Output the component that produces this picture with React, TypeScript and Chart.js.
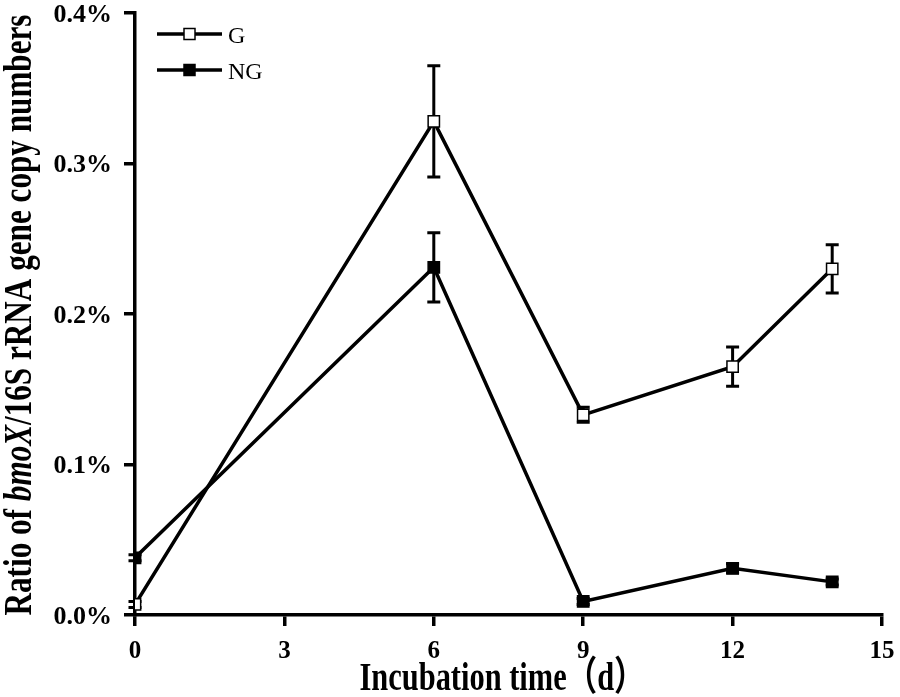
import React, { useEffect, useRef } from 'react';
import { Chart, registerables } from 'chart.js';

// Register Chart.js components
Chart.register(...registerables);

// Data (values in %)
const days = [0, 6, 9, 12, 14];
const gValues = [0.007, 0.328, 0.133, 0.165, 0.23];
const gErrors = [0.002, 0.037, 0.005, 0.013, 0.016];
const ngValues = [0.038, 0.231, 0.009, 0.031, 0.022];
const ngErrors = [0.002, 0.023, 0.002, 0.003, 0.002];
const seriesLabels = ['G', 'NG'];
const xTicks = [0, 3, 6, 9, 12, 15];
const yTicks = [0, 0.1, 0.2, 0.3, 0.4];

const SERIF = "'Times New Roman', 'Liberation Serif', 'Noto Sans CJK SC', serif";

const errorBars = [gErrors, ngErrors];

// error bars, drawn under the markers
const errorBarPlugin = {
  id: 'errorBars',
  beforeDatasetsDraw(chart: Chart) {
    const { ctx } = chart;
    const yScale = chart.scales.y;
    ctx.save();
    ctx.strokeStyle = '#000';
    ctx.lineWidth = 3;
    chart.data.datasets.forEach((ds, di) => {
      const meta = chart.getDatasetMeta(di);
      const errs = errorBars[di];
      meta.data.forEach((pt, i) => {
        const v = (ds.data[i] as { y: number }).y;
        const top = yScale.getPixelForValue(v + errs[i]);
        const bot = yScale.getPixelForValue(v - errs[i]);
        const x = pt.x;
        ctx.beginPath();
        ctx.moveTo(x, top);
        ctx.lineTo(x, bot);
        ctx.moveTo(x - 6.5, top);
        ctx.lineTo(x + 6.5, top);
        ctx.moveTo(x - 6.5, bot);
        ctx.lineTo(x + 6.5, bot);
        ctx.stroke();
      });
    });
    ctx.restore();
  },
};

// draws text squeezed to a given length
const fitText = (
  ctx: CanvasRenderingContext2D,
  parts: { text: string; font: string }[],
  length: number
) => {
  let total = 0;
  parts.forEach(p => {
    ctx.font = p.font;
    total += ctx.measureText(p.text).width;
  });
  ctx.scale(length / total, 1);
  let x = -total / 2;
  parts.forEach(p => {
    ctx.font = p.font;
    ctx.fillText(p.text, x, 0);
    x += ctx.measureText(p.text).width;
  });
};

// tick labels, axis titles + legend inside the plot
const decorPlugin = {
  id: 'decor',
  afterDraw(chart: Chart) {
    const { ctx, chartArea } = chart;
    const xScale = chart.scales.x;
    const yScale = chart.scales.y;
    ctx.save();
    ctx.fillStyle = '#000';

    // tick labels
    ctx.font = `bold 26px ${SERIF}`;
    ctx.textAlign = 'right';
    ctx.textBaseline = 'alphabetic';
    yTicks.forEach(v => {
      ctx.fillText(`${v.toFixed(1)}%`, chartArea.left - 23, yScale.getPixelForValue(v) + 8.5);
    });
    ctx.font = `bold 25px ${SERIF}`;
    ctx.textAlign = 'center';
    xTicks.forEach(v => {
      ctx.fillText(String(v), xScale.getPixelForValue(v), chartArea.bottom + 43);
    });

    ctx.textAlign = 'left';
    // y title
    ctx.save();
    ctx.translate(31, (chartArea.top + chartArea.bottom) / 2 + 1);
    ctx.rotate(-Math.PI / 2);
    fitText(
      ctx,
      [
        { text: 'Ratio of ', font: `bold 40px ${SERIF}` },
        { text: 'bmoX', font: `italic bold 40px ${SERIF}` },
        { text: '/16S rRNA gene copy numbers', font: `bold 40px ${SERIF}` },
      ],
      601
    );
    ctx.restore();

    // x title
    ctx.save();
    ctx.translate(502, 690);
    fitText(ctx, [{ text: 'Incubation time（d）', font: `bold 40px ${SERIF}` }], 285);
    ctx.restore();

    // legend
    chart.data.datasets.forEach((ds, di) => {
      const y = chartArea.top + 21 + di * 36;
      const x0 = chartArea.left + 22;
      ctx.strokeStyle = '#000';
      ctx.lineWidth = 3.5;
      ctx.beginPath();
      ctx.moveTo(x0, y);
      ctx.lineTo(x0 + 65, y);
      ctx.stroke();
      ctx.fillStyle = di === 0 ? '#fff' : '#000';
      ctx.lineWidth = 1.5;
      ctx.fillRect(x0 + 27, y - 5.5, 11, 11);
      ctx.strokeRect(x0 + 27, y - 5.5, 11, 11);
      ctx.fillStyle = '#000';
      ctx.font = `24px ${SERIF}`;
      ctx.textBaseline = 'alphabetic';
      ctx.fillText(ds.label || '', x0 + 71, y + 9);
    });
    ctx.restore();
  },
};

const App: React.FC = () => {
  const chartRef = useRef<HTMLCanvasElement>(null);
  const chartInstance = useRef<Chart | null>(null);

  useEffect(() => {
    document.body.style.margin = '0';
    if (!chartRef.current) return;
    const ctx = chartRef.current.getContext('2d');
    if (!ctx) return;

    const makeSet = (label: string, values: number[], fill: string) => ({
      label,
      data: days.map((d, i) => ({ x: d, y: values[i] })),
      borderColor: '#000',
      borderWidth: 3.5,
      pointStyle: 'rect' as const,
      pointRadius: 8,
      pointBorderWidth: 1.5,
      pointBorderColor: '#000',
      pointBackgroundColor: fill,
      tension: 0,
    });

    const axisGrid = {
      drawOnChartArea: false,
      drawTicks: true,
      tickLength: 11,
      color: '#000',
      lineWidth: 3.5,
    };

    chartInstance.current = new Chart(ctx, {
      type: 'line',
      data: {
        datasets: [
          makeSet(seriesLabels[0], gValues, '#fff'),
          makeSet(seriesLabels[1], ngValues, '#000'),
        ],
      },
      options: {
        responsive: false,
        animation: false,
        layout: { padding: { top: 13, right: 18, left: 0, bottom: 0 } },
        plugins: {
          legend: { display: false },
          tooltip: { enabled: false },
        },
        scales: {
          x: {
            type: 'linear',
            min: xTicks[0],
            max: xTicks[xTicks.length - 1],
            afterBuildTicks: scale => {
              scale.ticks = xTicks.map(v => ({ value: v }));
            },
            afterFit: scale => {
              scale.height = 82;
              scale.paddingLeft = 0;
              scale.paddingRight = 0;
            },
            grid: axisGrid,
            border: { display: true, color: '#000', width: 3.5 },
            ticks: { display: false },
          },
          y: {
            type: 'linear',
            min: yTicks[0],
            max: yTicks[yTicks.length - 1],
            afterBuildTicks: scale => {
              scale.ticks = yTicks.map(v => ({ value: v }));
            },
            afterFit: scale => {
              scale.width = 135;
              scale.paddingTop = 0;
              scale.paddingBottom = 0;
            },
            grid: axisGrid,
            border: { display: true, color: '#000', width: 3.5 },
            ticks: { display: false },
          },
        },
      },
      plugins: [errorBarPlugin, decorPlugin],
    });

    return () => {
      if (chartInstance.current) {
        chartInstance.current.destroy();
        chartInstance.current = null;
      }
    };
  }, []);

  return (
    <div style={{ width: 900, height: 697, background: '#fff' }}>
      <canvas ref={chartRef} width={900} height={697}></canvas>
    </div>
  );
};

export default App;
